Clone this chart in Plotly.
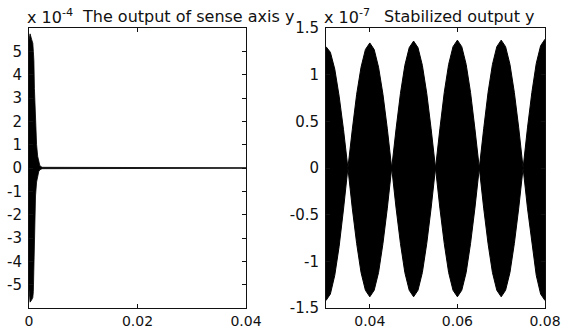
import plotly.graph_objects as go

# ---- Left panel: output of sense axis y (units of 1e-4) ----
t_left = [0.0, 0.0002, 0.0005, 0.0007, 0.0008, 0.0009, 0.0010, 0.0012, 0.0014,
          0.0016, 0.0018, 0.0020, 0.0024, 0.0400]
left_upper = [5.5, 5.75, 5.5, 5.35, 5.0, 4.6, 3.4, 2.1, 1.0, 0.5, 0.25, 0.1, 0.03, 0.01]
left_lower = [-5.2, -5.75, -5.65, -5.55, -5.3, -4.5, -2.6, -1.2, -0.6, -0.3, -0.15,
              -0.08, -0.03, -0.01]
left_xticks = [0, 0.02, 0.04]
left_xticktext = ["0", "0.02", "0.04"]
left_yticks = [-5, -4, -3, -2, -1, 0, 1, 2, 3, 4, 5]
left_yticktext = ["-5", "-4", "-3", "-2", "-1", "0", "1", "2", "3", "4", "5"]

# ---- Right panel: stabilized output y (units of 1e-7), envelope of dense oscillation ----
t_right = [0.030, 0.031, 0.032, 0.033, 0.034, 0.035, 0.036, 0.037, 0.038, 0.039,
           0.040, 0.041, 0.042, 0.043, 0.044, 0.045, 0.046, 0.047, 0.048, 0.049,
           0.050, 0.051, 0.052, 0.053, 0.054, 0.055, 0.056, 0.057, 0.058, 0.059,
           0.060, 0.061, 0.062, 0.063, 0.064, 0.065, 0.066, 0.067, 0.068, 0.069,
           0.070, 0.071, 0.072, 0.073, 0.074, 0.075, 0.076, 0.077, 0.078, 0.079,
           0.080]
right_upper = [1.30, 1.24, 1.06, 0.77, 0.41, 0.00, 0.41, 0.79, 1.08, 1.27,
               1.34, 1.27, 1.08, 0.79, 0.42, 0.00, 0.42, 0.80, 1.10, 1.29,
               1.36, 1.29, 1.10, 0.80, 0.42, 0.00, 0.42, 0.81, 1.11, 1.30,
               1.37, 1.30, 1.11, 0.81, 0.42, 0.00, 0.42, 0.81, 1.11, 1.30,
               1.37, 1.30, 1.11, 0.81, 0.43, 0.00, 0.43, 0.81, 1.12, 1.31,
               1.38]
right_lower = [-1.42, -1.35, -1.15, -0.84, -0.44, 0.00, -0.43, -0.81, -1.12, -1.31,
               -1.38, -1.31, -1.12, -0.81, -0.43, 0.00, -0.43, -0.81, -1.12, -1.31,
               -1.38, -1.31, -1.12, -0.81, -0.43, 0.00, -0.43, -0.81, -1.12, -1.31,
               -1.38, -1.31, -1.12, -0.81, -0.43, 0.00, -0.43, -0.81, -1.12, -1.31,
               -1.38, -1.31, -1.12, -0.81, -0.43, 0.00, -0.43, -0.82, -1.15, -1.35,
               -1.42]
right_xticks = [0.04, 0.06, 0.08]
right_xticktext = ["0.04", "0.06", "0.08"]
right_yticks = [-1.5, -1, -0.5, 0, 0.5, 1, 1.5]
right_yticktext = ["-1.5", "-1", "-0.5", "0", "0.5", "1", "1.5"]

W, H = 563, 329
FONT = "DejaVu Sans"
INK = "#111111"

fig = go.Figure()

# left envelope (filled)
fig.add_trace(go.Scatter(x=t_left, y=left_lower, mode="lines",
                         line=dict(color="black", width=0.8), xaxis="x", yaxis="y",
                         showlegend=False, hoverinfo="skip"))
fig.add_trace(go.Scatter(x=t_left, y=left_upper, mode="lines", fill="tonexty",
                         fillcolor="black", line=dict(color="black", width=0.8),
                         xaxis="x", yaxis="y", showlegend=False, hoverinfo="skip"))

# right envelope (filled)
fig.add_trace(go.Scatter(x=t_right, y=right_lower, mode="lines",
                         line=dict(color="black", width=1), xaxis="x2", yaxis="y2",
                         showlegend=False, hoverinfo="skip"))
fig.add_trace(go.Scatter(x=t_right, y=right_upper, mode="lines", fill="tonexty",
                         fillcolor="black", line=dict(color="black", width=1),
                         xaxis="x2", yaxis="y2", showlegend=False, hoverinfo="skip"))

ydom = [1 - 308 / H, 1 - 28 / H]
axis_common = dict(showline=True, linecolor=INK, linewidth=1, mirror="ticks",
                   ticks="inside", ticklen=4, tickcolor=INK, showgrid=False,
                   zeroline=False, automargin=False)
yfont = dict(family=FONT, size=15, color=INK)
xfont = dict(family=FONT, size=14, color=INK)

fig.update_layout(
    width=W, height=H,
    margin=dict(l=0, r=0, t=0, b=0),
    paper_bgcolor="white", plot_bgcolor="white",
    xaxis=dict(domain=[29 / W, 246 / W], range=[0, 0.04], tickmode="array",
               tickvals=left_xticks, ticktext=left_xticktext, anchor="y",
               tickfont=xfont, **axis_common),
    yaxis=dict(domain=ydom, range=[-6, 6], tickmode="array", ticklabelstandoff=3,
               tickvals=left_yticks, ticktext=left_yticktext, anchor="x",
               tickfont=yfont, **axis_common),
    xaxis2=dict(domain=[326 / W, 545 / W], range=[0.03, 0.08], tickmode="array",
                tickvals=right_xticks, ticktext=right_xticktext, anchor="y2",
                tickfont=xfont, **axis_common),
    yaxis2=dict(domain=ydom, range=[-1.5, 1.5], tickmode="array", ticklabelstandoff=3,
                tickvals=right_yticks, ticktext=right_yticktext, anchor="x2",
                tickfont=yfont, **axis_common),
)

ty = 1 - 17 / H
title_font = dict(family=FONT, size=16, color=INK)
fig.add_annotation(text="x 10<sup>-4</sup>", xref="paper", yref="paper", x=25 / W, y=ty,
                   xanchor="left", yanchor="middle", showarrow=False, font=title_font)
fig.add_annotation(text="The output of sense axis y", xref="paper", yref="paper",
                   x=80 / W, y=ty, xanchor="left", yanchor="middle", showarrow=False,
                   font=title_font)
fig.add_annotation(text="x 10<sup>-7</sup>", xref="paper", yref="paper", x=322 / W, y=ty,
                   xanchor="left", yanchor="middle", showarrow=False, font=title_font)
fig.add_annotation(text="Stabilized output y", xref="paper", yref="paper",
                   x=382 / W, y=ty, xanchor="left", yanchor="middle", showarrow=False,
                   font=title_font)

fig.write_html("out.html")
